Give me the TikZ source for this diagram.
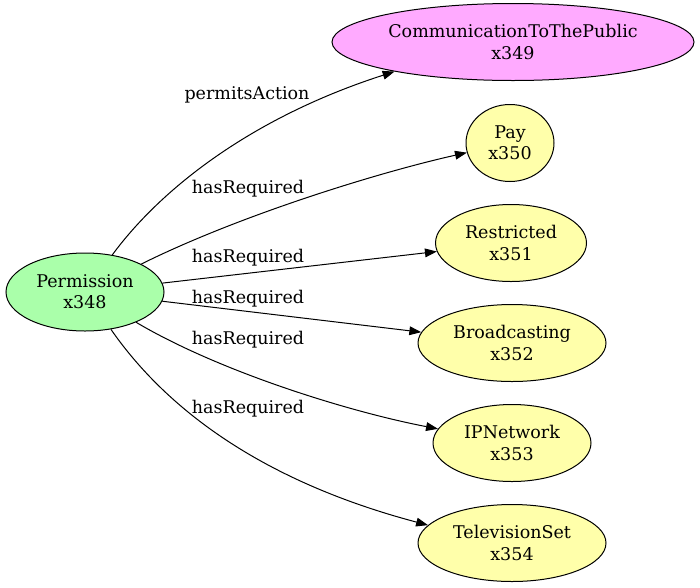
\documentclass[tikz,border=0pt]{standalone}
\usepackage{fontspec}
\setmainfont{DejaVu Serif}
\usetikzlibrary{shapes.geometric,arrows.meta}
\begin{document}
\begin{tikzpicture}[x=0.8pt,y=-0.8pt,
  every node/.style={font=\fontsize{14}{17}\selectfont},
  nd/.style={ellipse,draw=black,line width=0.8pt,inner sep=0pt,align=center},
  green/.style={nd,fill={rgb,255:red,170;green,255;blue,170}},
  pink/.style={nd,fill={rgb,255:red,255;green,170;blue,255}},
  yell/.style={nd,fill={rgb,255:red,255;green,255;blue,170}},
  edge/.style={draw=black,line width=0.8pt,-{Triangle[length=9.5pt,width=7pt]}},
  lbl/.style={inner sep=0pt}]
\useasboundingbox (0,0) rectangle (700,587);
\node[green,minimum width=126.4pt,minimum height=62.4pt] (perm) at (85,292) {Permission\\x348};
\node[pink,minimum width=289.6pt,minimum height=61.6pt] (comm) at (513,42) {CommunicationToThePublic\\x349};
\node[yell,minimum width=70.4pt,minimum height=61.6pt] (pay) at (510,143) {Pay\\x350};
\node[yell,minimum width=120.8pt,minimum height=61.6pt] (restr) at (511,243) {Restricted\\x351};
\node[yell,minimum width=150.4pt,minimum height=61.6pt] (broad) at (512,343) {Broadcasting\\x352};
\node[yell,minimum width=126.4pt,minimum height=61.6pt] (ipn) at (512,443) {IPNetwork\\x353};
\node[yell,minimum width=150.4pt,minimum height=61.6pt] (tv) at (512,543) {TelevisionSet\\x354};

\draw[edge] (perm) .. controls (160,190) and (250,118) .. (comm.194);
\draw[edge] (perm) .. controls (240,215) and (380,172) .. (pay);
\draw[edge] (perm) -- (restr);
\draw[edge] (perm) -- (broad);
\draw[edge] (perm) .. controls (220,372) and (350,412) .. (ipn);
\draw[edge] (perm) .. controls (160,400) and (250,478) .. (tv.168);

\node[lbl] (l1) at (247,95) {permitsAction};
\node[lbl] (l2) at (248,189) {hasRequired};
\node[lbl] (l3) at (248,258) {hasRequired};
\node[lbl] (l4) at (248,299) {hasRequired};
\node[lbl] (l5) at (248,340) {hasRequired};
\node[lbl] (l6) at (248,409) {hasRequired};
\end{tikzpicture}
\end{document}
